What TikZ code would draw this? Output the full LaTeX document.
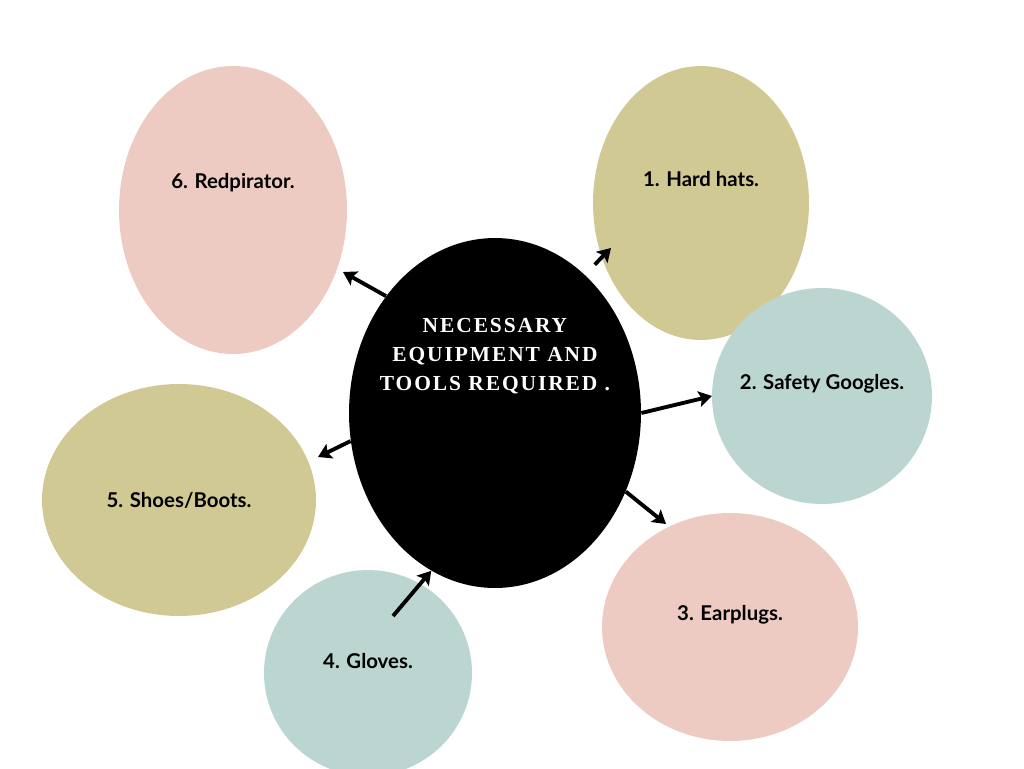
\documentclass[tikz,border=0pt]{standalone}
\usepackage{fontspec}
\setmainfont{Lato}
\newfontfamily\headfont[LetterSpace=9]{Liberation Serif}
\usepackage{tikz}
\usetikzlibrary{shapes.geometric,arrows.meta}
\definecolor{rosepink}{HTML}{EDCBC3}
\definecolor{khaki}{HTML}{D0C993}
\definecolor{sage}{HTML}{BBD6D0}
\tikzset{
 blob/.style={ellipse,inner sep=0pt,draw=none},
 item/.style={font=\bfseries\fontsize{11.6}{13}\selectfont,text=black},
 pointer/.style={line width=2.2pt,-{Stealth[length=7.5pt,width=9pt,inset=1.5pt]}}
}

\begin{document}
\begin{tikzpicture}[x=0.02cm,y=-0.02cm]
 \fill[white] (0,0) rectangle (1024,768);
 \useasboundingbox (0,0) rectangle (1024,768);
 \node[blob,fill=rosepink,minimum width=4.56cm,minimum height=5.76cm] (e6) at (233,210) {};
 \node[blob,fill=khaki,minimum width=4.32cm,minimum height=5.48cm] (e1) at (701,203) {};
 \node[blob,fill=sage,minimum width=4.40cm,minimum height=4.32cm] (e2) at (822,396) {};
 \node[blob,fill=rosepink,minimum width=5.12cm,minimum height=4.56cm] (e3) at (730,627) {};
 \node[blob,fill=sage,minimum width=4.16cm,minimum height=4.12cm] (e4) at (368,673) {};
 \node[blob,fill=khaki,minimum width=5.48cm,minimum height=4.64cm] (e5) at (179,500) {};
 \node[blob,fill=black,minimum width=5.84cm,minimum height=7.00cm] (ctr) at (495,413) {};
 \node[item] (l6) at (233,183) {6. Redpirator.};
 \node[item] (l1) at (701,179) {1. Hard hats.};
 \node[item] (l2) at (822,384) {2. Safety Googles.};
 \node[item] (l3) at (730,615) {3. Earplugs.};
 \node[item] (l4) at (368,661) {4. Gloves.};
 \node[item] (l5) at (179,500) {5. Shoes/Boots.};
 \node[align=center,text=white,font=\headfont\bfseries\fontsize{12.2}{16.5}\selectfont] (title) at (495,356)
  {NECESSARY\\EQUIPMENT AND\\TOOLS REQUIRED .};
 \coordinate (t6) at (343,272);
 \coordinate (t1) at (611,248);
 \coordinate (t2) at (712,396);
 \coordinate (t3) at (666,524);
 \coordinate (s4) at (393,616);
 \coordinate (t5) at (318,457);
 \draw[pointer] (ctr.133) -- (t6);
 \draw[pointer,shorten <=8pt] (ctr.57) -- (t1);
 \draw[pointer] (ctr.0) -- (t2);
 \draw[pointer] (ctr.-31) -- (t3);
 \draw[pointer] (s4) -- (ctr.248);
 \draw[pointer] (ctr.191) -- (t5);
\end{tikzpicture}
\end{document}
